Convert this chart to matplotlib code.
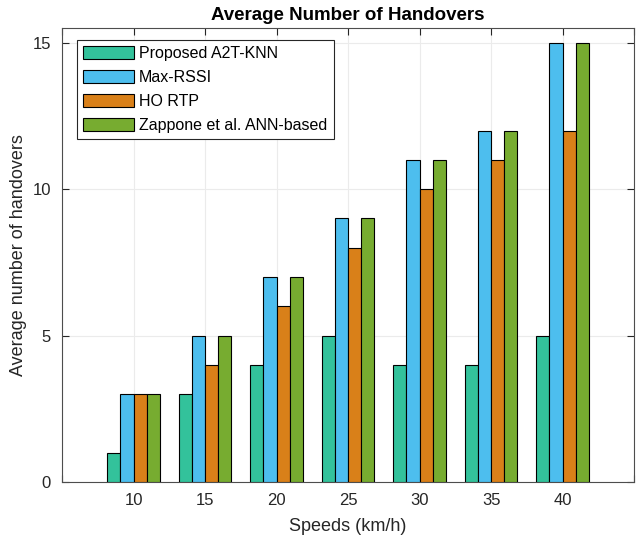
import matplotlib.pyplot as plt
import numpy as np

plt.rcParams['font.family'] = ['Liberation Sans', 'DejaVu Sans']

speeds = [10, 15, 20, 25, 30, 35, 40]
a2t_knn = [1, 3, 4, 5, 4, 4, 5]
max_rssi = [3, 5, 7, 9, 11, 12, 15]
ho_rtp = [3, 4, 6, 8, 10, 11, 12]
zappone = [3, 5, 7, 9, 11, 12, 15]

labels = ['Proposed A2T-KNN', 'Max-RSSI', 'HO RTP', 'Zappone et al. ANN-based']
colors = ['#33C29B', '#4DBEEE', '#D98019', '#77AC30']
series = [a2t_knn, max_rssi, ho_rtp, zappone]

fig = plt.figure(figsize=(6.36, 5.41), dpi=100)
ax = fig.add_axes([0.0975, 0.109, 0.8995, 0.839])

x = np.array(speeds, dtype=float)
w = 0.92
offs = [-1.5, -0.5, 0.5, 1.5]
for s, c, lab, o in zip(series, colors, labels, offs):
    ax.bar(x + o * w, s, width=w, color=c, edgecolor='black', linewidth=0.8,
           label=lab, zorder=3)

ax.set_xlim(5, 45)
ax.set_ylim(0, 15.5)
ax.set_xticks([5] + speeds + [45])
ax.set_xticklabels([''] + [str(v) for v in speeds] + [''])
ax.set_yticks([0, 5, 10, 15])
ax.tick_params(labelsize=12, colors='#262626', direction='in', length=5,
               top=True, right=True, pad=8)
ax.grid(True, color='#EBEBEB', linewidth=0.8, zorder=0)
for sp in ax.spines.values():
    sp.set_color('#4D4D4D')
    sp.set_linewidth(0.8)

ax.set_xlabel('Speeds (km/h)', fontsize=13, color='#262626', labelpad=7)
ax.set_ylabel('Average number of handovers', fontsize=13, color='#262626')
ax.set_title('Average Number of Handovers', fontsize=13.5, fontweight='bold', pad=6)

leg = ax.legend(loc='upper left', bbox_to_anchor=(0.026, 0.974), fontsize=11.5,
                handlelength=3.2, handleheight=0.85, handletextpad=0.3,
                labelspacing=0.55, borderpad=0.4, borderaxespad=0,
                fancybox=False, edgecolor='#262626', framealpha=1)
leg.get_frame().set_linewidth(0.8)

fig.savefig('out.png', dpi=100)
